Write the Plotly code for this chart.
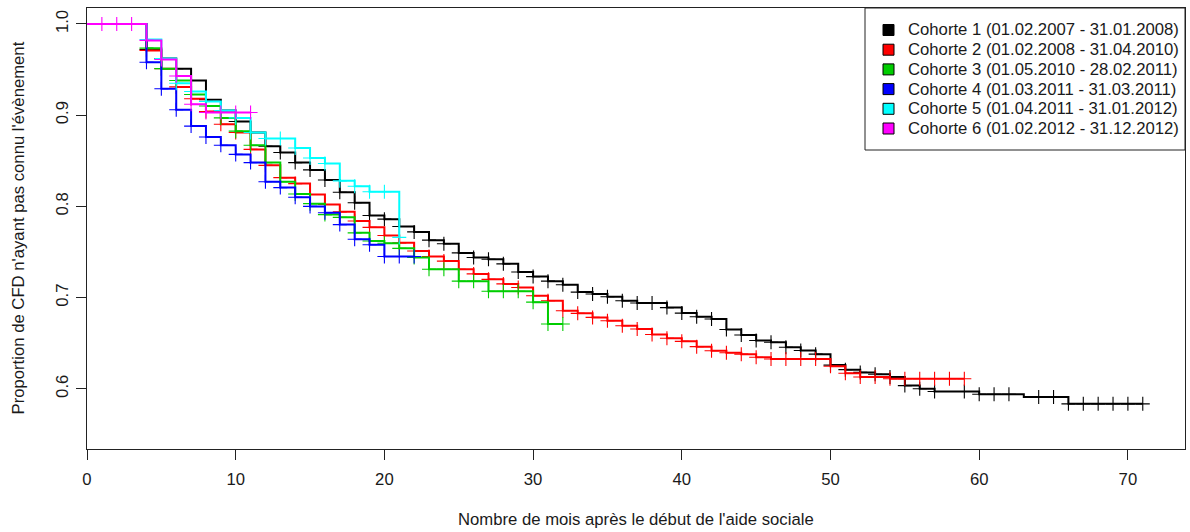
import numpy as np
import plotly.graph_objects as go

# ---------------- data ----------------
cohort_labels = [
    "Cohorte 1 (01.02.2007 - 31.01.2008)",
    "Cohorte 2 (01.02.2008 - 31.04.2010)",
    "Cohorte 3 (01.05.2010 - 28.02.2011)",
    "Cohorte 4 (01.03.2011 - 31.03.2011)",
    "Cohorte 5 (01.04.2011 - 31.01.2012)",
    "Cohorte 6 (01.02.2012 - 31.12.2012)",
]
cohort_colors = ["#000000", "#FF0000", "#00CD00", "#0000FF", "#00FFFF", "#FF00FF"]

c1_time = [4, 5, 6, 7, 8, 9, 10, 11, 12, 13, 14, 15, 16, 17, 18, 19, 20, 21, 22, 23, 24,
           25, 26, 27, 28, 29, 30, 31, 32, 33, 34, 35, 36, 37, 39, 40, 41, 42, 43, 44,
           45, 46, 47, 48, 49, 50, 51, 52, 53, 54, 55, 56, 57, 60, 63, 66]
c1_surv = [0.972, 0.962, 0.951, 0.938, 0.917, 0.905, 0.893, 0.881, 0.866, 0.859, 0.848,
           0.840, 0.829, 0.8155, 0.804, 0.790, 0.786, 0.778, 0.772, 0.763, 0.759,
           0.749, 0.744, 0.742, 0.737, 0.728, 0.723, 0.718, 0.714, 0.706, 0.704, 0.701,
           0.6965, 0.694, 0.689, 0.683, 0.679, 0.6765, 0.665, 0.659,
           0.653, 0.651, 0.6455, 0.642, 0.638, 0.626, 0.621, 0.618, 0.616, 0.613,
           0.6035, 0.600, 0.597, 0.594, 0.591, 0.5835]
c1_end = 71
c1_cens = [4, 5, 6, 7, 8, 9, 10, 11, 12, 13, 14, 15, 16, 17, 18, 19, 20, 21, 22, 23, 24,
           25, 26, 27, 28, 29, 30, 31, 32, 33, 34, 35, 36, 37, 38, 39, 40, 41, 42, 43, 44,
           45, 46, 47, 48, 49, 50, 51, 52, 53, 54, 55, 56, 57, 59, 60, 61, 62, 64, 65,
           66, 67, 68, 69, 70, 71]

c2_time = [4, 5, 6, 7, 8, 9, 10, 11, 12, 13, 14, 15, 16, 17, 18, 19, 20, 21, 22, 23, 24,
           25, 26, 27, 28, 29, 30, 31, 32, 33, 34, 35, 36, 37, 38, 39, 40, 41, 42, 43,
           44, 45, 46, 50, 51, 52, 54]
c2_surv = [0.971, 0.951, 0.931, 0.918, 0.904, 0.890, 0.881, 0.8625, 0.845, 0.8315, 0.825,
           0.813, 0.802, 0.794, 0.784, 0.777, 0.768, 0.760, 0.751, 0.745, 0.740,
           0.731, 0.726, 0.720, 0.715, 0.711, 0.702, 0.6965, 0.6856, 0.6827, 0.6783,
           0.6746, 0.6692, 0.6655, 0.6595, 0.6555, 0.652, 0.6462, 0.6418, 0.6395,
           0.638, 0.6346, 0.6327, 0.6247, 0.617, 0.613, 0.611]
c2_end = 59
c2_cens = [4, 5, 6, 7, 8, 9, 10, 11, 12, 13, 14, 15, 16, 17, 18, 19, 20, 21, 22, 23, 24,
           25, 26, 27, 28, 29, 30, 31, 32, 33, 34, 35, 36, 37, 38, 39, 40, 41, 42, 43, 44,
           45, 46, 47, 48, 49, 50, 51, 52, 53, 54, 55, 56, 57, 58, 59]

c3_time = [4, 5, 6, 7, 8, 9, 10, 11, 12, 13, 14, 15, 16, 17, 18, 19, 20, 21, 22, 23,
           25, 27, 30, 31]
c3_surv = [0.9735, 0.951, 0.938, 0.9226, 0.910, 0.897, 0.8825, 0.867, 0.848, 0.827,
           0.8135, 0.803, 0.791, 0.788, 0.771, 0.762, 0.7596, 0.754, 0.744, 0.731,
           0.718, 0.707, 0.695, 0.671]
c3_end = 32
c3_cens = [4, 5, 6, 7, 8, 9, 10, 11, 12, 13, 14, 15, 16, 17, 18, 19, 20, 21, 22, 23, 24,
           25, 26, 27, 28, 29, 30, 31, 32]

c4_time = [4, 5, 6, 7, 8, 9, 10, 11, 12, 13, 14, 15, 16, 17, 18, 19, 20]
c4_surv = [0.958, 0.929, 0.906, 0.888, 0.876, 0.867, 0.857, 0.848, 0.827, 0.8206,
           0.810, 0.800, 0.793, 0.780, 0.764, 0.758, 0.745]
c4_end = 22
c4_cens = [4, 5, 6, 7, 8, 9, 10, 11, 12, 13, 14, 15, 16, 17, 18, 19, 20, 21, 22]

c5_time = [4, 5, 6, 7, 8, 9, 10, 11, 12, 14, 15, 16, 17, 18, 19, 21]
c5_surv = [0.983, 0.962, 0.935, 0.926, 0.915, 0.905, 0.897, 0.881, 0.8745, 0.864,
           0.853, 0.847, 0.828, 0.822, 0.816, 0.766]
c5_end = 21
c5_cens = [4, 5, 6, 7, 8, 9, 10, 11, 12, 13, 14, 15, 16, 17, 18, 19, 20, 21]

c6_time = [4, 5, 6, 7, 8]
c6_surv = [0.982, 0.961, 0.943, 0.912, 0.903]
c6_end = 11
c6_cens = [1, 2, 3, 4, 5, 6, 7, 8, 9, 10, 11]

x_ticks = [0, 10, 20, 30, 40, 50, 60, 70]
y_ticks = [0.6, 0.7, 0.8, 0.9, 1.0]
y_tick_text = ["0.6", "0.7", "0.8", "0.9", "1.0"]
x_title = "Nombre de mois après le début de l'aide sociale"
y_title = "Proportion de CFD n'ayant pas connu l'évènement"

cohorts = [
    (c1_time, c1_surv, c1_end, c1_cens),
    (c2_time, c2_surv, c2_end, c2_cens),
    (c3_time, c3_surv, c3_end, c3_cens),
    (c4_time, c4_surv, c4_end, c4_cens),
    (c5_time, c5_surv, c5_end, c5_cens),
    (c6_time, c6_surv, c6_end, c6_cens),
]

# ---------------- figure ----------------
FONT = "Liberation Sans, Arial, sans-serif"
FS = 16.7
TXT = "#1a1a1a"

W, H = 1190, 532
L, R, T, B = 87, 5, 8, 83
PW, PH = W - L - R, H - T - B


def px_x(px):
    return (px - L) / PW


def px_y(py):
    return (H - B - py) / PH


fig = go.Figure()

for (times, surv, end, cens), col, lab in zip(cohorts, cohort_colors, cohort_labels):
    xs = [0] + list(times) + [end]
    ys = [1.0] + list(surv) + [surv[-1]]
    fig.add_trace(go.Scatter(x=xs, y=ys, mode="lines", line=dict(color=col, width=2, shape="hv"),
                             showlegend=False, name=lab, hoverinfo="skip"))
    t_arr = np.asarray(times)
    s_arr = np.asarray(surv)
    idx = np.searchsorted(t_arr, np.asarray(cens), side="right") - 1
    cy = np.where(idx >= 0, s_arr[np.clip(idx, 0, None)], 1.0)
    fig.add_trace(go.Scatter(x=cens, y=cy, mode="markers",
                             marker=dict(symbol="cross-thin", size=10,
                                         line=dict(color=col, width=1.1)),
                             showlegend=False, hoverinfo="skip"))

axis_common = dict(showgrid=False, zeroline=False, showline=True, mirror=True,
                   linecolor="#222", linewidth=1, ticks="outside", ticklen=10,
                   tickcolor="#222", tickwidth=1,
                   tickfont=dict(family=FONT, size=FS, color=TXT))

fig.update_xaxes(range=[0, 73.84], tickvals=x_ticks, ticklabelstandoff=5, **axis_common)
fig.update_yaxes(range=[0.534, 1.0175], tickvals=y_ticks, ticktext=y_tick_text,
                 tickangle=-90, ticklabelstandoff=1, **axis_common)

shapes = []
annotations = []

# legend box
leg_left, leg_right, leg_top, leg_bottom = 865, W - R, T, 150
shapes.append(dict(type="rect", xref="paper", yref="paper",
                   x0=px_x(leg_left), x1=px_x(leg_right), y0=px_y(leg_bottom), y1=px_y(leg_top),
                   line=dict(color="#222", width=1), fillcolor="white", layer="above"))
for k, (col, lab) in enumerate(zip(cohort_colors, cohort_labels)):
    yc = 30 + 19.7 * k
    xc = 888.5
    shapes.append(dict(type="rect", xref="paper", yref="paper",
                       x0=px_x(xc - 5.5), x1=px_x(xc + 5.5), y0=px_y(yc + 5.5), y1=px_y(yc - 5.5),
                       line=dict(color="#000", width=1), fillcolor=col, layer="above"))
    annotations.append(dict(xref="paper", yref="paper", x=px_x(906), y=px_y(yc),
                            xanchor="left", yanchor="middle", showarrow=False, text=lab,
                            font=dict(family=FONT, size=FS, color=TXT)))

annotations.append(dict(xref="paper", yref="paper", x=px_x(L + PW / 2), y=px_y(519),
                        xanchor="center", yanchor="middle", showarrow=False, text=x_title,
                        font=dict(family=FONT, size=FS, color=TXT)))
annotations.append(dict(xref="paper", yref="paper", x=px_x(18), y=px_y(T + PH / 2),
                        xanchor="center", yanchor="middle", showarrow=False, text=y_title,
                        textangle=-90, font=dict(family=FONT, size=FS, color=TXT)))

fig.update_layout(width=W, height=H, margin=dict(l=L, r=R, t=T, b=B, autoexpand=False),
                  paper_bgcolor="white", plot_bgcolor="white", showlegend=False,
                  shapes=shapes, annotations=annotations,
                  font=dict(family=FONT, size=FS, color=TXT))

fig.write_html("out.html", config={"displayModeBar": False},
               post_script="document.body.style.margin='0';document.body.style.overflow='hidden';")
